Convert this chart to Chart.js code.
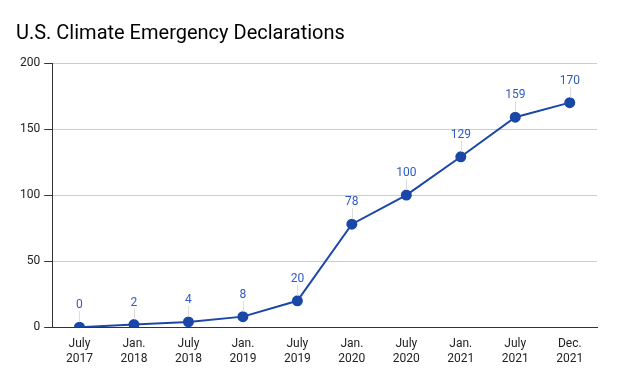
<!DOCTYPE html>
<html><head><meta charset="utf-8">
<script src="https://cdn.jsdelivr.net/npm/chart.js@4"></script>
<style>html,body{margin:0;padding:0;background:#fff}#w{width:617px;height:381px;position:relative}</style>
</head><body><div id="w"><canvas id="c"></canvas></div>
<script>
const categories = [["July","2017"],["Jan.","2018"],["July","2018"],["Jan.","2019"],["July","2019"],["Jan.","2020"],["July","2020"],["Jan.","2021"],["July","2021"],["Dec.","2021"]];
const declarations = [0,2,4,8,20,78,100,129,159,170];
const yTicks = [0,50,100,150,200];

const labelPlugin = {
  id:'labels',
  afterDatasetsDraw(chart){
    const ctx = chart.ctx;
    const meta = chart.getDatasetMeta(0);
    ctx.save();
    meta.data.forEach((pt,i)=>{
      const x = pt.x, y = pt.y;
      ctx.strokeStyle = '#dddddd';
      ctx.lineWidth = 1;
      ctx.beginPath();
      ctx.moveTo(Math.round(x)+0.5, y-16);
      ctx.lineTo(Math.round(x)+0.5, y-5);
      ctx.stroke();
      ctx.fillStyle = '#2f5bc4';
      ctx.font = '12px Roboto';
      ctx.textAlign = 'center';
      ctx.textBaseline = 'middle';
      ctx.fillText(String(declarations[i]), x, y-22);
    });
    ctx.restore();
  }
};

new Chart(document.getElementById('c'), {
  type:'line',
  data:{labels:categories, datasets:[{data:declarations, borderColor:'#1a47a8', backgroundColor:'#1a47a8', borderWidth:2, pointRadius:4.5, pointHoverRadius:4.5, tension:0}]},
  options:{
    responsive:true, maintainAspectRatio:false, animation:false,
    layout:{padding:{left:16,right:20,top:4,bottom:5}},
    plugins:{
      legend:{display:false}, tooltip:{enabled:false},
      title:{display:true, text:'U.S. Climate Emergency Declarations', align:'start', color:'#000', font:{family:'Roboto', size:20, weight:'normal'}, padding:{top:18,bottom:17}}
    },
    scales:{
      x:{offset:true, grid:{display:false, drawTicks:false}, border:{display:true,color:'#333',width:1},
         ticks:{color:'#222', font:{family:'Roboto',size:12}, padding:10, maxRotation:0, autoSkip:false}},
      y:{min:0,max:200, afterBuildTicks(s){s.ticks = yTicks.map(v=>({value:v}));},
         grid:{color:'#cccccc', tickLength:8, tickColor:'#333'}, border:{display:true,color:'#333',width:1},
         ticks:{color:'#222', font:{family:'Roboto',size:12}, padding:4}}
    }
  },
  plugins:[labelPlugin]
});
</script></body></html>
